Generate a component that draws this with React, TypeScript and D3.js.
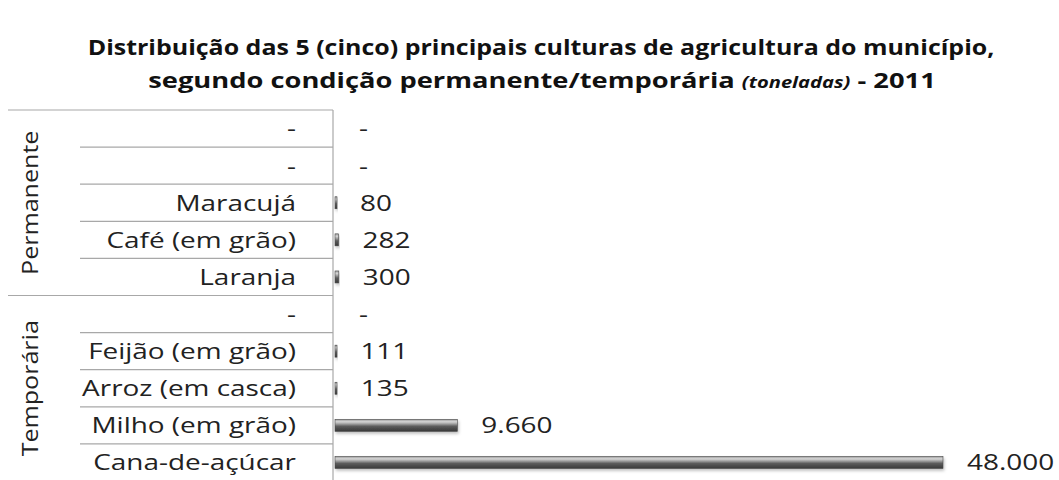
import React, { useEffect, useRef } from "react";
import * as d3 from "d3";

const groups = ["Permanente", "Temporária"];
const groupOf = [0, 0, 0, 0, 0, 1, 1, 1, 1, 1];
const categories = [
  "-",
  "-",
  "Maracujá",
  "Café (em grão)",
  "Laranja",
  "-",
  "Feijão (em grão)",
  "Arroz (em casca)",
  "Milho (em grão)",
  "Cana-de-açúcar",
];
const values: (number | null)[] = [null, null, 80, 282, 300, null, 111, 135, 9660, 48000];
const titleLine1 = "Distribuição das 5 (cinco) principais culturas de agricultura do município,";
const titleLine2a = "segundo condição permanente/temporária ";
const titleLine2b = "(toneladas)";
const titleLine2c = " - 2011";

const W = 1059;
const H = 480;
const FONT = "'Open Sans', 'DejaVu Sans', sans-serif";
const SX = 1.27; // horizontal stretch of the reference lettering
const FS = 22;

export default function App() {
  const ref = useRef<SVGSVGElement>(null);

  useEffect(() => {
    const svg = d3.select(ref.current);
    svg.selectAll("*").remove();

    const defs = svg.append("defs");
    const grad = defs
      .append("linearGradient")
      .attr("id", "barGrad")
      .attr("x1", 0)
      .attr("y1", 0)
      .attr("x2", 0)
      .attr("y2", 1);
    [
      [0, "#9a9a9a"],
      [0.2, "#d6d6d6"],
      [0.38, "#a0a0a0"],
      [0.58, "#5c5c5c"],
      [1, "#383838"],
    ].forEach(([o, c]) => grad.append("stop").attr("offset", o as number).attr("stop-color", c as string));
    const filt = defs.append("filter").attr("id", "shadow").attr("x", "-10%").attr("y", "-50%").attr("width", "130%").attr("height", "220%");
    filt.append("feDropShadow").attr("dx", 1).attr("dy", 2).attr("stdDeviation", 1.5).attr("flood-color", "#000").attr("flood-opacity", 0.25);

    // Title, fitted to the reference's line widths
    const fit = (sel: d3.Selection<SVGTextElement, unknown, null, undefined>, cx: number, cy: number, target: number) => {
      const w = (sel.node() as SVGTextElement).getComputedTextLength();
      const s = target / w;
      sel.attr("transform", `translate(${cx},${cy}) scale(${s},1)`);
    };
    const t = svg.append("g").attr("font-family", FONT).attr("font-weight", "bold").attr("fill", "#111");
    const l1 = t
      .append("text")
      .attr("text-anchor", "middle")
      .attr("font-size", 21)
      .text(titleLine1);
    fit(l1 as any, 541, 55, 907);
    const l2 = t.append("text").attr("text-anchor", "middle").attr("font-size", 21);
    l2.append("tspan").text(titleLine2a);
    l2.append("tspan").attr("font-style", "italic").attr("font-size", 15.5).text(titleLine2b);
    l2.append("tspan").text(titleLine2c);
    fit(l2 as any, 542, 88, 788);

    const top = 110;
    const bottom = 481;
    const axisX = 333;
    const x = d3.scaleLinear().domain([0, 48000]).range([axisX + 2, 943]);
    const y = d3
      .scaleBand<number>()
      .domain(d3.range(categories.length))
      .range([top, bottom]);
    const bh = 12;

    // Table lines
    const lineColor = "#a8a8a8";
    const grid = svg.append("g").attr("stroke", lineColor).attr("stroke-width", 1.2);
    grid.append("line").attr("x1", 8).attr("x2", axisX).attr("y1", top).attr("y2", top);
    categories.forEach((_, i) => {
      if (i === 0) return;
      const yy = y(i)!;
      const newGroup = groupOf[i] !== groupOf[i - 1];
      grid
        .append("line")
        .attr("x1", newGroup ? 8 : 80)
        .attr("x2", axisX)
        .attr("y1", yy)
        .attr("y2", yy);
    });
    grid.append("line").attr("x1", axisX).attr("x2", axisX).attr("y1", top).attr("y2", H);

    // Category labels
    svg
      .append("g")
      .attr("font-family", FONT)
      .attr("font-size", FS)
      .attr("fill", "#222")
      .selectAll("text")
      .data(categories)
      .join("text")
      .attr("transform", (_, i) => `translate(296,${y(i)! + y.bandwidth() / 2}) scale(${SX},1)`)
      .attr("dy", "0.36em")
      .attr("text-anchor", "end")
      .text((d) => d);

    // Group labels
    groups.forEach((g, gi) => {
      const idx = groupOf.map((v, i) => (v === gi ? i : -1)).filter((i) => i >= 0);
      const y0 = y(idx[0])!;
      const y1 = y(idx[idx.length - 1])! + y.bandwidth();
      const cy = (y0 + y1) / 2;
      svg
        .append("text")
        .attr("transform", `translate(30,${cy}) rotate(-90) scale(1.14,1)`)
        .attr("text-anchor", "middle")
        .attr("dy", "0.36em")
        .attr("font-family", FONT)
        .attr("font-size", FS)
        .attr("fill", "#222")
        .text(g);
    });

    // Bars
    const bars = svg.append("g");
    values.forEach((v, i) => {
      if (v == null) return;
      const cy = y(i)! + y.bandwidth() / 2;
      bars
        .append("rect")
        .attr("x", x(0))
        .attr("y", cy - bh / 2)
        .attr("width", Math.max(2, x(v) - x(0)))
        .attr("height", bh)
        .attr("fill", "url(#barGrad)")
        .attr("stroke", "#4a4a4a")
        .attr("stroke-width", 0.6)
        .attr("filter", "url(#shadow)");
    });

    // Value labels
    const fmt = (v: number) => d3.format(",")(v).replace(/,/g, ".");
    svg
      .append("g")
      .attr("font-family", FONT)
      .attr("font-size", FS)
      .attr("fill", "#222")
      .selectAll("text")
      .data(values)
      .join("text")
      .attr(
        "transform",
        (d, i) => `translate(${(d == null ? x(0) : x(d)) + 24},${y(i)! + y.bandwidth() / 2}) scale(${SX},1)`
      )
      .attr("dy", "0.36em")
      .text((d) => (d == null ? "-" : fmt(d)));
  }, []);

  return (
    <svg
      ref={ref}
      width={W}
      height={H}
      style={{ position: "absolute", left: 0, top: 0, background: "#fff" }}
    />
  );
}
